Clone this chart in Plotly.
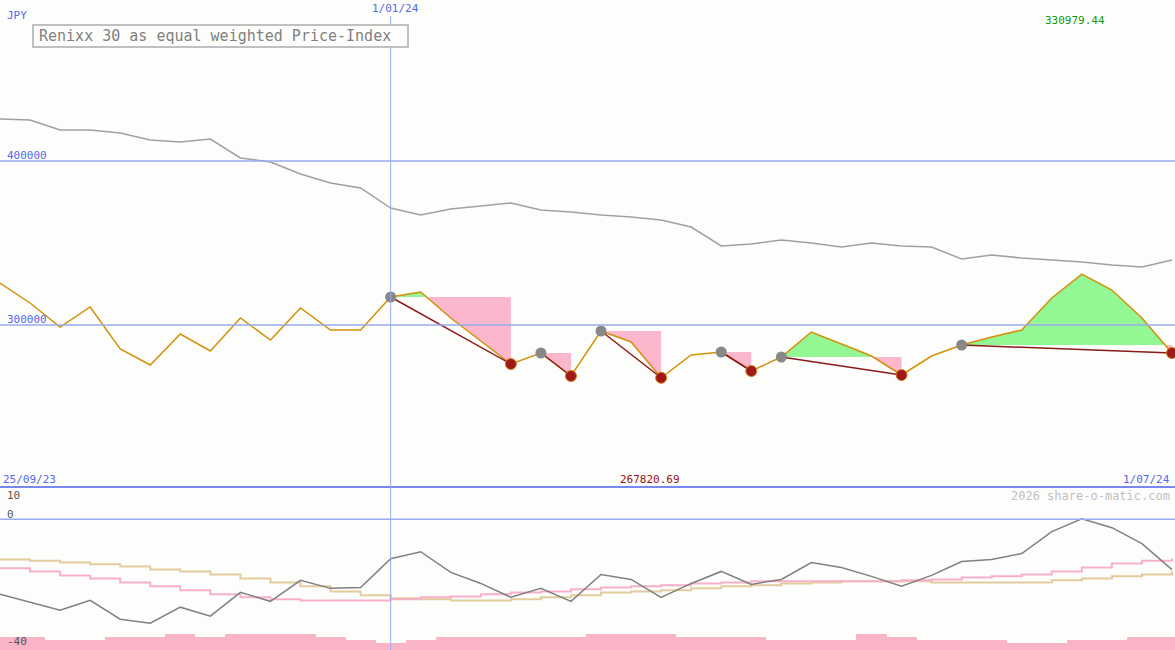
import pandas as pd
import plotly.graph_objects as go

dates = pd.date_range("2023-10-02", periods=40, freq="7D")
price = [325610, 313415, 298780, 310976, 285366, 275610, 294512, 284146, 304268, 290854,
         310366, 296951, 296951, 317073, 320122, 304268, 290244, 276220, 282927, 268902,
         296341, 289634, 267821, 281707, 283537, 271951, 280488, 295732, 288415, 281098,
         269512, 281098, 287805, 292683, 296951, 316463, 330979, 321341, 304268, 282927]
upper = [425610, 425000, 418902, 418902, 417073, 412805, 411585, 413415, 401829, 399390,
         392073, 386585, 383537, 371341, 367073, 370732, 372561, 374390, 370122, 368902,
         367073, 365854, 364024, 359756, 348171, 349390, 351829, 350000, 347561, 350000,
         348171, 347561, 340244, 342683, 340854, 339634, 338415, 336585, 335366, 339634]
osc = [-24.3, -26.9, -29.5, -26.3, -32.4, -33.7, -28.5, -31.4, -23.7, -26.6,
       -19.8, -22.4, -22.1, -12.8, -10.5, -17.2, -20.8, -25.3, -22.4, -26.6,
       -17.9, -19.5, -25.3, -20.8, -16.9, -21.1, -19.5, -14.0, -15.6, -18.5,
       -21.7, -18.2, -13.7, -13.0, -11.1, -4.0, 0.2, -2.7, -7.9, -16.3]
tan = [-13.0, -13.4, -14.0, -14.6, -15.3, -16.3, -16.9, -17.9, -19.2, -20.5,
       -21.7, -23.4, -24.6, -25.6, -25.9, -26.3, -26.3, -25.9, -25.3, -24.6,
       -23.7, -23.4, -23.0, -22.4, -21.7, -21.4, -20.8, -20.5, -20.1, -20.1,
       -20.1, -20.5, -20.5, -20.5, -20.5, -19.8, -19.2, -18.5, -17.9, -16.9]
pinkma = [-15.9, -16.9, -18.2, -19.2, -20.5, -21.7, -23.0, -24.3, -25.3, -25.9,
          -26.3, -26.3, -26.3, -25.9, -25.3, -25.0, -24.3, -23.7, -23.4, -22.7,
          -22.1, -21.7, -21.4, -20.8, -20.5, -20.1, -20.1, -20.1, -20.1, -20.1,
          -19.8, -19.5, -18.9, -18.5, -17.9, -16.9, -15.6, -14.3, -13.4, -12.7]
bars = [-38.2, -38.2, -39.2, -39.2, -38.2, -38.2, -37.2, -38.2, -37.2, -37.2,
        -37.2, -38.2, -39.2, -40.1, -39.2, -38.2, -38.2, -38.2, -38.2, -38.2,
        -37.2, -37.2, -37.2, -38.2, -38.2, -38.2, -39.2, -39.2, -39.2, -37.2,
        -38.2, -39.2, -39.2, -39.2, -40.1, -40.1, -39.2, -39.2, -38.2, -38.2]
segments = [(13, 17), (18, 19), (20, 22), (24, 25), (26, 30), (32, 39)]
BASE = -42.4

fig = go.Figure()

def build(s, e):
    L = price[s]
    xs, ys = [], []
    for i in range(s, e + 1):
        if i > s:
            a, b = price[i - 1] - L, price[i] - L
            if a * b < 0:
                t = a / (a - b)
                xs.append(dates[i - 1] + (dates[i] - dates[i - 1]) * t)
                ys.append(L)
        xs.append(dates[i]); ys.append(price[i])
    return L, xs, ys

for s, e in segments:
    L, xs, ys = build(s, e)
    for kind, col in (("g", "rgba(120,245,120,0.8)"), ("p", "rgba(250,170,195,0.85)")):
        py = [max(y, L) if kind == "g" else min(y, L) for y in ys]
        fig.add_trace(go.Scatter(x=list(xs) + [xs[-1], xs[0]], y=py + [L, L], fill="toself",
                                 fillcolor=col, line=dict(width=0), mode="lines",
                                 hoverinfo="skip", yaxis="y"))

fig.add_trace(go.Scatter(x=dates, y=upper, mode="lines", line=dict(color="#a0a0a0", width=1.5), yaxis="y"))
fig.add_trace(go.Scatter(x=dates, y=price, mode="lines", line=dict(color="#d4900a", width=1.5), yaxis="y"))
for s, e in segments:
    fig.add_trace(go.Scatter(x=[dates[s], dates[e]], y=[price[s], price[e]], mode="lines",
                             line=dict(color="#8b1a1a", width=1.5), yaxis="y"))
fig.add_trace(go.Scatter(x=[dates[s] for s, e in segments], y=[price[s] for s, e in segments],
                         mode="markers", marker=dict(color="#888888", size=11), yaxis="y"))
fig.add_trace(go.Scatter(x=[dates[e] for s, e in segments], y=[price[e] for s, e in segments],
                         mode="markers", marker=dict(color="#a01818", size=11,
                                                     line=dict(color="#d08020", width=1)), yaxis="y"))

fig.add_trace(go.Bar(x=dates, y=[b - BASE for b in bars], base=BASE, marker=dict(color="#f9b4c8", line=dict(width=0)),
                     width=7 * 86400000, yaxis="y2"))
fig.add_trace(go.Scatter(x=dates, y=tan, mode="lines", line=dict(color="#e2cc9c", width=2, shape="hv"), yaxis="y2"))
fig.add_trace(go.Scatter(x=dates, y=pinkma, mode="lines", line=dict(color="#f8b0c8", width=2, shape="hv"), yaxis="y2"))
fig.add_trace(go.Scatter(x=dates, y=osc, mode="lines", line=dict(color="#808080", width=1.5), yaxis="y2"))

split = 1 - 487 / 650
fig.update_layout(
    width=1175, height=650, margin=dict(l=0, r=0, t=0, b=0),
    paper_bgcolor="#fdfefc", plot_bgcolor="#fdfefc", showlegend=False, bargap=0,
    xaxis=dict(range=[dates[0], dates[39] + pd.Timedelta(days=0.7)], showgrid=False, showticklabels=False, zeroline=False),
    yaxis=dict(domain=[split, 1], range=[201220, 498170], showgrid=False, showticklabels=False, zeroline=False),
    yaxis2=dict(domain=[0, split], range=[BASE, 10.5], showgrid=False, showticklabels=False, zeroline=False),
    font=dict(family="DejaVu Sans Mono", size=11),
)
bl = "#99aaee"
shapes = [
    dict(type="line", xref="paper", yref="y", x0=0, x1=1, y0=400000, y1=400000, line=dict(color=bl, width=1.5)),
    dict(type="line", xref="paper", yref="y", x0=0, x1=1, y0=300000, y1=300000, line=dict(color=bl, width=1.5)),
    dict(type="line", xref="paper", yref="paper", x0=0, x1=1, y0=split, y1=split, line=dict(color="#7788ee", width=2)),
    dict(type="line", xref="paper", yref="y2", x0=0, x1=1, y0=0, y1=0, line=dict(color=bl, width=1.5)),
    dict(type="line", xref="x", yref="paper", x0=pd.Timestamp("2024-01-01"), x1=pd.Timestamp("2024-01-01"),
         y0=0, y1=1 - 16 / 650, line=dict(color=bl, width=1)),
    dict(type="rect", xref="paper", yref="paper", x0=33 / 1175, x1=408 / 1175, y0=1 - 47 / 650, y1=1 - 25 / 650,
         line=dict(color="#c0c0c0", width=2), fillcolor="#fdfefc"),
]
fig.update_layout(shapes=shapes)

def ann(text, px, py, color, xa="left", size=11):
    fig.add_annotation(text=text, x=px / 1175, y=1 - py / 650, xref="paper", yref="paper", showarrow=False,
                       xanchor=xa, yanchor="middle", font=dict(color=color, size=size, family="DejaVu Sans Mono"))

ann("Renixx 30 as equal weighted Price-Index", 37, 36, "#808080", size=15)
ann("JPY", 5, 16, "#5566ee")
ann("1/01/24", 395, 9, "#5566ee", "center")
ann("330979.44", 1075, 21, "#119911", "center")
ann("400000", 5, 155, "#5566ee")
ann("300000", 5, 319, "#5566ee")
ann("25/09/23", 1, 479, "#5566ee")
ann("267820.69", 650, 479, "#991111", "center")
ann("1/07/24", 1172, 479, "#5566ee", "right")
ann("10", 5, 495, "#555555")
ann("0", 5, 514, "#555555")
ann("-40", 5, 641, "#555555")
ann("2026 share-o-matic.com", 1172, 496, "#c0c0c0", "right", 12)

fig.write_html("out.html", config={"displayModeBar": False})
with open("out.html", encoding="utf-8") as f:
    html = f.read()
html = html.replace("<head>", "<head><style>html,body{margin:0;padding:0;overflow:hidden;}</style>", 1)
with open("out.html", "w", encoding="utf-8") as f:
    f.write(html)
